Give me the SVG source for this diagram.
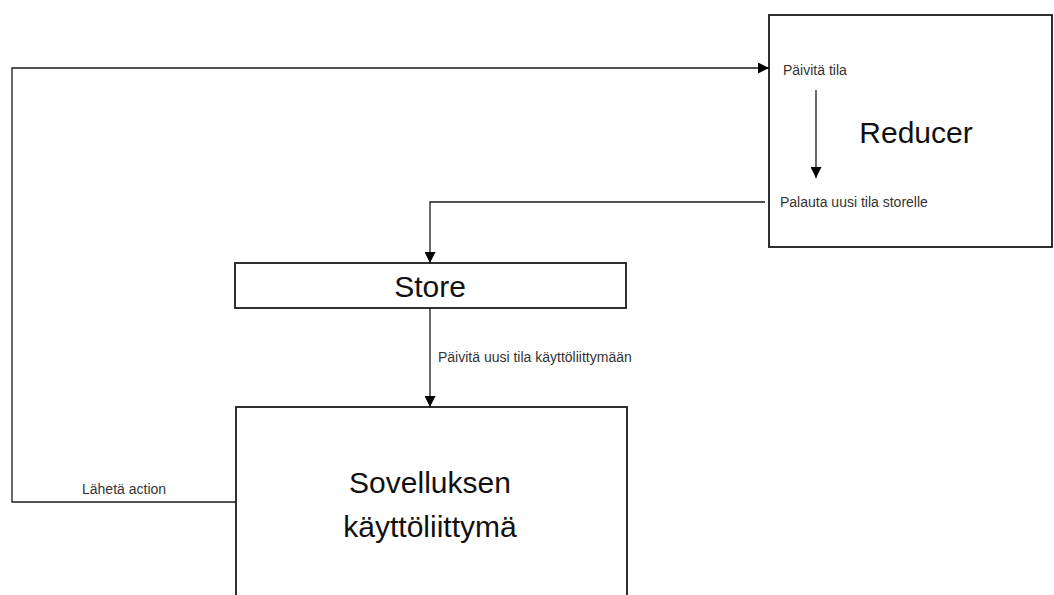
<svg xmlns="http://www.w3.org/2000/svg" width="1054" height="595" viewBox="0 0 1054 595">
<style>
.box{fill:#fff;stroke:#1a1a1a;stroke-width:1.8}
.ln{fill:none;stroke:#1a1a1a;stroke-width:1.3}
.big{font-family:"Liberation Sans",Arial,sans-serif;font-size:30px;fill:#111;text-anchor:middle}
.sm{font-family:"Liberation Sans",Arial,sans-serif;font-size:14px;fill:#333}
</style>
<defs>
<marker id="ah" viewBox="0 0 10 10" refX="10" refY="5" markerWidth="11" markerHeight="11" markerUnits="userSpaceOnUse" orient="auto">
<path d="M0,0 L10,5 L0,10 Z" fill="#000"/>
</marker>
</defs>
<rect width="1054" height="595" fill="#fff"/>
<g id="reducer">
<rect class="box" x="769" y="15" width="283" height="232"/>
<text class="big" x="916" y="143">Reducer</text>
<text class="sm" x="783" y="75">Päivitä tila</text>
<text class="sm" x="780" y="207">Palauta uusi tila storelle</text>
</g>
<g id="store">
<rect class="box" x="235" y="263" width="391" height="45"/>
<text class="big" x="430" y="297">Store</text>
</g>
<g id="ui">
<rect class="box" x="236" y="407" width="391" height="200"/>
<text class="big" x="430" y="493">Sovelluksen</text>
<text class="big" x="430" y="537">käyttöliittymä</text>
</g>
<g id="connectors">
<path class="ln" d="M816,90 V178" marker-end="url(#ah)"/>
<path class="ln" d="M765,202 H430 V263" marker-end="url(#ah)"/>
<path class="ln" d="M430,308 V407" marker-end="url(#ah)"/>
<text class="sm" x="438" y="362">Päivitä uusi tila käyttöliittymään</text>
<path class="ln" d="M236,502 H12 V68 H769" marker-end="url(#ah)"/>
<text class="sm" x="82" y="494">Lähetä action</text>
</g>
</svg>
